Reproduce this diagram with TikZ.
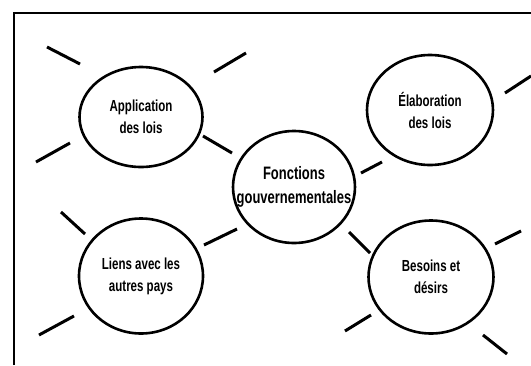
\documentclass[tikz,border=0pt]{standalone}
\usepackage{fontspec}
\usepackage{tikz}
\usetikzlibrary{shapes.geometric, calc}
\newfontfamily\bubblefont{Liberation Sans}[FakeStretch=0.72]
\tikzset{
  bubble/.style = {shape=ellipse, draw, line width=2.6pt,
                   anchor=center, align=center, inner sep=0pt,
                   minimum width=124pt, minimum height=112pt,
                   font=\bubblefont\bfseries\fontsize{16}{22}\selectfont},
  bubblebig/.style = {bubble, minimum width=122pt, inner xsep=-22pt,
                   font=\bubblefont\bfseries\fontsize{18}{24}\selectfont},
  ray/.style = {line width=3pt},
  frame/.style = {line width=2.8pt}
}
\begin{document}
\begin{tikzpicture}[x=1pt, y=-1pt, node distance=145pt]
            \useasboundingbox (0,0) rectangle (531,365);
            \draw [frame] (14,365) |- (531,13);

            \node (fun) [bubblebig] at (294,187) {Fonctions\\gouvernementales};
            \node (app) [bubble, left of=fun, xshift=-8pt, yshift=70pt, minimum width=123pt, minimum height=100pt] {Application\\des lois};
            \node (elab) [bubble, right of=fun, xshift=-9pt, yshift=77pt, minimum width=126pt, minimum height=110pt] {\'Elaboration\\des lois};
            \node (liens) [bubble, left of=fun, xshift=-8pt, yshift=-89pt, minimum height=115pt] {Liens avec les\\autres pays};
            \node (bes) [bubble, right of=fun, xshift=-8pt, yshift=-90pt, minimum width=125pt, minimum height=113pt] {Besoins et\\d\'esirs};

            % rayons autour des bulles
            \foreach \xa/\ya/\xb/\yb in {-94/-70/-61/-53, 73/-45/105/-64, -105/45/-71/26, 62/19/91/36}
              \draw [ray] ($(app)+(\xa,\ya)$) -- ($(app)+(\xb,\yb)$);
            \foreach \xa/\ya/\xb/\yb in {75/-17/101/-34, -69/63/-48/52}
              \draw [ray] ($(elab)+(\xa,\ya)$) -- ($(elab)+(\xb,\yb)$);
            \foreach \xa/\ya/\xb/\yb in {-80/-64/-56/-42, -102/59/-67/40, 63/-31/96/-47}
              \draw [ray] ($(liens)+(\xa,\ya)$) -- ($(liens)+(\xb,\yb)$);
            \foreach \xa/\ya/\xb/\yb in {64/-33/90/-46, -86/54/-60/38, 52/58/76/77, -82/-45/-61/-24}
              \draw [ray] ($(bes)+(\xa,\ya)$) -- ($(bes)+(\xb,\yb)$);
        \end{tikzpicture}
\end{document}
